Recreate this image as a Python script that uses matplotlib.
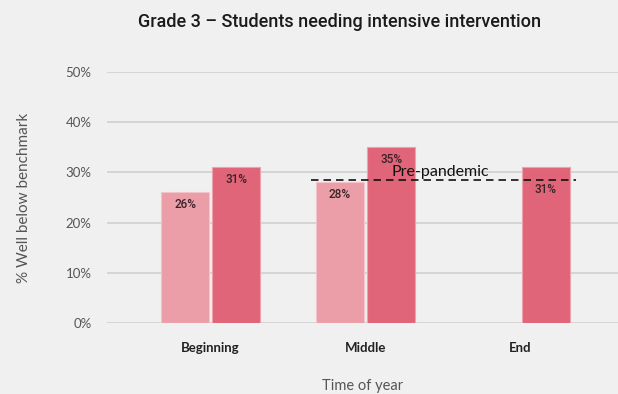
import numpy as np
import matplotlib
matplotlib.use("Agg")
import matplotlib.pyplot as plt

# Data
periods = ["Beginning", "Middle", "End"]
pre_covid = [26, 28, np.nan]      # earlier cohort
current = [31, 35, 31]            # most recent cohort
pre_pandemic_level = 28.4
yticks = [0, 10, 20, 30, 40, 50]

BG = "#f0f0f0"
LIGHT = "#eb9ea7"
DARK = "#e06578"

fig = plt.figure(figsize=(6.18, 3.94), dpi=100, facecolor=BG)
ax = fig.add_axes([107 / 618, 71 / 394, 511 / 618, 251 / 394], facecolor=BG)

x = np.arange(len(periods))
w = 0.31
off = 0.165

b1 = ax.bar(x - off, pre_covid, width=w, color=LIGHT, edgecolor="#f3c4c9",
            linewidth=0.8, zorder=2)
b2 = ax.bar(x + off, current, width=w, color=DARK, edgecolor="#eda2ac",
            linewidth=0.8, zorder=2)

line_x0 = x[1] - off - w / 2 - 0.03
line_x1 = x[2] + off + w / 2 + 0.04

for bars, vals in ((b1, pre_covid), (b2, current)):
    for rect, v in zip(bars, vals):
        if np.isnan(v):
            continue
        cx = rect.get_x() + rect.get_width() / 2
        ly = v - 2.4
        # keep labels clear of the dashed reference line
        if cx > x[1] + 0.5 and abs(ly - pre_pandemic_level) < 1.5:
            ly = pre_pandemic_level - 1.9
        ax.text(cx, ly, f"{v:.0f}%",
                ha="center", va="center", fontsize=8.5, color="#3a2228",
                family="Roboto", fontweight="medium", zorder=4)

# Pre-pandemic reference line spanning Middle light bar to End bar
ax.plot([line_x0, line_x1], [pre_pandemic_level, pre_pandemic_level],
        color="#111111", linestyle=(0, (4.5, 3)), linewidth=1.2, zorder=3)
ax.text(x[1] + 0.17, pre_pandemic_level + 0.3, "Pre-pandemic",
        fontsize=11.5, color="#111111", family="Lato", va="bottom", ha="left",
        zorder=5)

ax.set_xlim(-0.669, 2.63)
ax.set_ylim(0, 50)
ax.set_yticks(yticks)
ax.set_yticklabels([f"{t}%" for t in yticks], family="Lato", fontsize=9.5,
                   color="#555555")
ax.set_xticks(x)
ax.set_xticklabels(periods, family="Lato", fontweight="bold", fontsize=9.5,
                   color="#222222")
ax.tick_params(axis="y", length=0, pad=11)
ax.tick_params(axis="x", length=0, pad=14)
ax.grid(axis="y", color="#d0d0d0", linewidth=1.2, zorder=0)
ax.set_axisbelow(True)
for s in ax.spines.values():
    s.set_visible(False)

ax.set_ylabel("% Well below benchmark", family="Lato", fontsize=11,
              color="#555555", labelpad=25)
ax.set_xlabel("Time of year", family="Lato", fontsize=10.5, color="#555555",
              labelpad=18)

fig.text(340 / 618, 1 - 22 / 394, "Grade 3 \u2013 Students needing intensive intervention",
         ha="center", va="center", fontsize=13, fontweight="medium",
         family="Roboto", color="#1a1a1a")

fig.savefig("out.png", dpi=100, facecolor=BG)
